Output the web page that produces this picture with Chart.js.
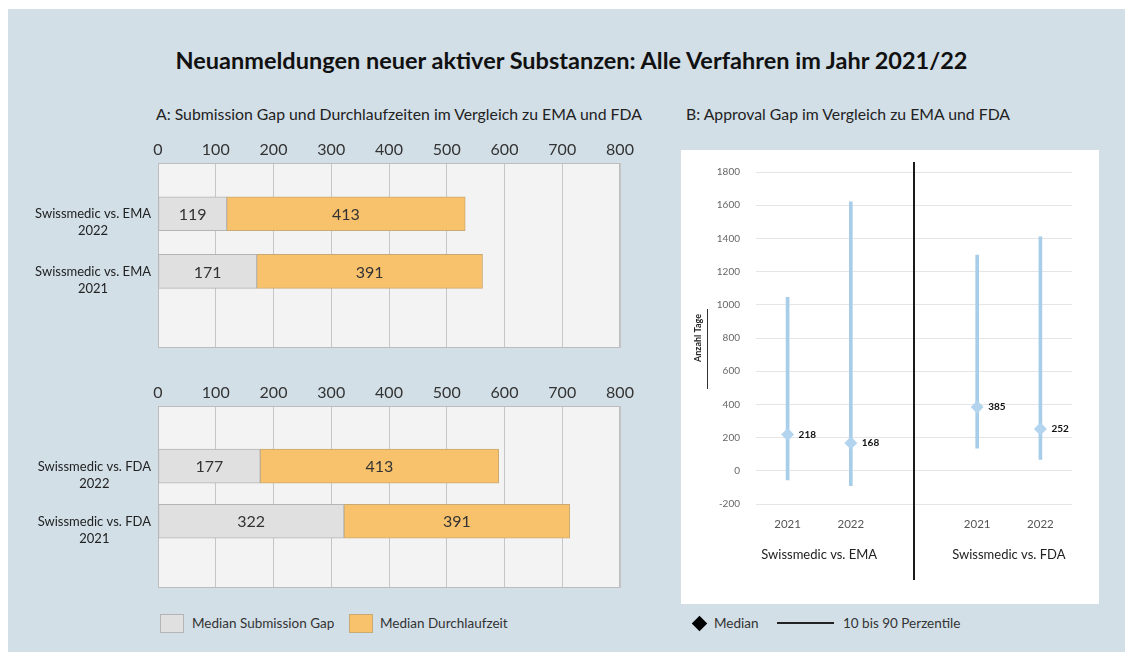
<!DOCTYPE html>
<html>
<head>
<meta charset="utf-8">
<script src="https://cdn.jsdelivr.net/npm/chart.js@4"></script>
<style>
  body { margin: 0; width: 1125px; height: 652px; overflow: hidden; background: #fff; font-family: Lato, sans-serif; color: #222; }
  #frame { position: absolute; left: 8px; top: 9px; width: 1117px; height: 643px; background: #d2dfe7; }
  #boxB { position: absolute; left: 681px; top: 150px; width: 418px; height: 454px; background: #fff; }
  .txt { position: absolute; white-space: nowrap; line-height: 20px; }
  #title { left: 0; width: 1143px; top: 46px; text-align: center; font-size: 23.5px; font-weight: 700; color: #111; line-height: 28px; }
  .sub { top: 104px; font-size: 15.8px; }
  .leg { top: 613px; font-size: 13.5px; color: #333; }
  .sw { position: absolute; top: 614px; width: 22px; height: 17px; border: 1px solid #b4b4b4; }
  canvas { position: absolute; }
</style>
</head>
<body>
<div id="frame"></div>
<div id="boxB"></div>
<div class="txt" id="title">Neuanmeldungen neuer aktiver Substanzen: Alle Verfahren im Jahr 2021/22</div>
<div class="txt sub" style="left:156px">A: Submission Gap und Durchlaufzeiten im Vergleich zu EMA und FDA</div>
<div class="txt sub" style="left:686px">B: Approval Gap im Vergleich zu EMA und FDA</div>

<canvas id="chartEma" width="640" height="222" style="left:0;top:130px"></canvas>
<canvas id="chartFda" width="640" height="222" style="left:0;top:370px"></canvas>
<canvas id="chartB" width="418" height="454" style="left:681px;top:150px"></canvas>

<div class="sw" style="left:160px;background:#e0e0e0"></div>
<div class="txt leg" style="left:192px">Median Submission Gap</div>
<div class="sw" style="left:349px;background:#f8c26d;border-color:#c9aa72"></div>
<div class="txt leg" style="left:380px">Median Durchlaufzeit</div>

<div style="position:absolute;left:694px;top:618px;width:11px;height:11px;background:#000;transform:rotate(45deg)"></div>
<div class="txt leg" style="left:714px">Median</div>
<div style="position:absolute;left:777px;top:622px;width:57px;border-top:2px solid #222"></div>
<div class="txt leg" style="left:843px">10 bis 90 Perzentile</div>

<script>
// Teil A
const labelsEma = [['Swissmedic vs. EMA', '2022'], ['Swissmedic vs. EMA', '2021']];
const labelsFda = [['Swissmedic vs. FDA', '2022'], ['Swissmedic vs. FDA', '2021']];
const gapEma = [119, 171];
const laufEma = [413, 391];
const gapFda = [177, 322];
const laufFda = [413, 391];
const ticksA = [0, 100, 200, 300, 400, 500, 600, 700, 800];

// Teil B
const yearsB = ['2021', '2022', '', '2021', '2022'];
const groupsB = ['Swissmedic vs. EMA', 'Swissmedic vs. FDA'];
const p10 = [-55, -90, null, 137, 68];
const p90 = [1045, 1620, null, 1300, 1410];
const medians = [218, 168, null, 385, 252];

const plotBox = {
    id: 'plotBox',
    beforeDraw(chart) {
        const { ctx, chartArea: a } = chart;
        ctx.save();
        ctx.fillStyle = '#f3f3f3';
        ctx.fillRect(a.left, a.top, a.width, a.height);
        ctx.restore();
    },
    beforeDatasetsDraw(chart) {
        const { ctx, chartArea: a } = chart;
        ctx.save();
        ctx.strokeStyle = '#bdbdbd';
        ctx.lineWidth = 1;
        ctx.strokeRect(a.left + 0.5, a.top + 0.5, a.width - 1, a.height - 1);
        ctx.restore();
    }
};

const barValues = {
    id: 'barValues',
    afterDatasetsDraw(chart) {
        const ctx = chart.ctx;
        ctx.save();
        ctx.font = '16px Lato';
        ctx.fillStyle = '#333';
        ctx.textAlign = 'center';
        ctx.textBaseline = 'middle';
        chart.data.datasets.forEach((ds, di) => {
            chart.getDatasetMeta(di).data.forEach((bar, i) => {
                ctx.fillText(ds.data[i].x, (bar.x + bar.base) / 2, bar.y + 1);
            });
        });
        ctx.restore();
    }
};

function makeA(id, labels, gap, lauf, xHeight, yMin, yMax) {
    new Chart(document.getElementById(id), {
        type: 'bar',
        data: {
            datasets: [{
                label: 'Median Submission Gap',
                data: gap.map((v, i) => ({ x: v, y: i + 1 })),
                backgroundColor: '#e0e0e0',
                borderColor: '#b4b4b4',
                borderWidth: 1,
                borderSkipped: false,
                barThickness: 34
            }, {
                label: 'Median Durchlaufzeit',
                data: lauf.map((v, i) => ({ x: v, y: i + 1 })),
                backgroundColor: '#f8c26d',
                borderColor: '#c9aa72',
                borderWidth: 1,
                borderSkipped: false,
                barThickness: 34
            }]
        },
        options: {
            indexAxis: 'y',
            responsive: false,
            animation: false,
            layout: { padding: { left: 0, right: 20, top: 0, bottom: 4 } },
            plugins: { legend: { display: false }, tooltip: { enabled: false } },
            scales: {
                x: {
                    position: 'top',
                    stacked: true,
                    min: 0,
                    max: 800,
                    afterFit: s => { s.height = xHeight; },
                    afterBuildTicks: s => { s.ticks = ticksA.map(v => ({ value: v })); },
                    grid: { color: '#c6c6c6', drawTicks: false },
                    border: { display: false },
                    ticks: { padding: 4, font: { family: 'Lato', size: 16 }, color: '#333' }
                },
                y: {
                    type: 'linear',
                    reverse: true,
                    stacked: true,
                    offset: false,
                    min: yMin,
                    max: yMax,
                    afterFit: s => { s.width = 158; s.paddingTop = 0; s.paddingBottom = 0; },
                    afterBuildTicks: s => { s.ticks = labels.map((l, i) => ({ value: i + 1 })); },
                    grid: { display: false, drawTicks: false, offset: false },
                    border: { display: false },
                    ticks: {
                        crossAlign: 'center',
                        padding: 7,
                        labelOffset: 9,
                        font: { family: 'Lato', size: 13, lineHeight: 1.3 },
                        color: '#222',
                        callback: v => labels[v - 1]
                    }
                }
            }
        },
        plugins: [plotBox, barValues]
    });
}

makeA('chartEma', labelsEma, gapEma, laufEma, 33, 0.12, 3.33);
makeA('chartFda', labelsFda, gapFda, laufFda, 36, -0.09, 3.21);

const groupLines = {
    id: 'groupLines',
    afterDraw(chart) {
        const { ctx, chartArea: a, scales: { x, y } } = chart;
        const mid = x.getPixelForValue(2);
        ctx.save();
        ctx.strokeStyle = '#1a1a1a';
        ctx.lineWidth = 2;
        ctx.beginPath();
        ctx.moveTo(mid, a.top - 10);
        ctx.lineTo(mid, a.bottom + 76);
        ctx.stroke();

        ctx.font = '13px Lato';
        ctx.fillStyle = '#222';
        ctx.textAlign = 'center';
        ctx.textBaseline = 'middle';
        groupsB.forEach((g, k) => {
            const cx = (x.getPixelForValue(k * 3) + x.getPixelForValue(k * 3 + 1)) / 2;
            ctx.fillText(g, cx, a.bottom + 51);
        });

        // kleine Linie neben dem Achsentitel
        const ty = (a.top + a.bottom) / 2 + 11;
        ctx.lineWidth = 1;
        ctx.strokeStyle = '#333';
        ctx.beginPath();
        ctx.moveTo(y.left + 26.5, ty - 40);
        ctx.lineTo(y.left + 26.5, ty + 40);
        ctx.stroke();
        ctx.restore();
    }
};

const medianLabels = {
    id: 'medianLabels',
    afterDatasetsDraw(chart) {
        const ctx = chart.ctx;
        ctx.save();
        ctx.font = 'bold 10px Lato';
        ctx.fillStyle = '#111';
        ctx.textAlign = 'left';
        ctx.textBaseline = 'middle';
        chart.getDatasetMeta(0).data.forEach((pt, i) => {
            if (medians[i] === null) return;
            ctx.fillText(medians[i], pt.x + 11, pt.y);
        });
        ctx.restore();
    }
};

new Chart(document.getElementById('chartB'), {
    type: 'bar',
    data: {
        labels: yearsB,
        datasets: [{
            type: 'line',
            label: 'Median',
            data: medians,
            showLine: false,
            pointStyle: 'rectRot',
            pointRadius: 6.5,
            pointHoverRadius: 6.5,
            pointBorderWidth: 0,
            backgroundColor: '#b3d4ee',
            borderColor: '#b3d4ee',
            order: 0
        }, {
            type: 'bar',
            label: '10 bis 90 Perzentile',
            data: p10.map((v, i) => v === null ? null : [v, p90[i]]),
            backgroundColor: '#a8cde8',
            barThickness: 3,
            order: 1
        }]
    },
    options: {
        responsive: false,
        animation: false,
        layout: { padding: { left: 0, right: 27, top: 21, bottom: 0 } },
        plugins: { legend: { display: false }, tooltip: { enabled: false } },
        scales: {
            x: {
                afterFit: s => { s.height = 100; },
                grid: { display: false },
                border: { display: false },
                ticks: { padding: 5, font: { family: 'Lato', size: 11.5 }, color: '#555' }
            },
            y: {
                min: -200,
                max: 1800,
                afterFit: s => { s.width = 75; },
                grid: { color: '#e5e5e5', drawTicks: false },
                border: { display: false },
                ticks: { stepSize: 200, padding: 16, font: { family: 'Lato', size: 10 }, color: '#666', callback: v => String(v) },
                title: {
                    display: true,
                    text: 'Anzahl Tage',
                    font: { family: 'Lato', size: 9, weight: 'bold' },
                    color: '#222',
                    padding: { top: 12, bottom: 0 }
                }
            }
        }
    },
    plugins: [groupLines, medianLabels]
});
</script>
</body>
</html>
